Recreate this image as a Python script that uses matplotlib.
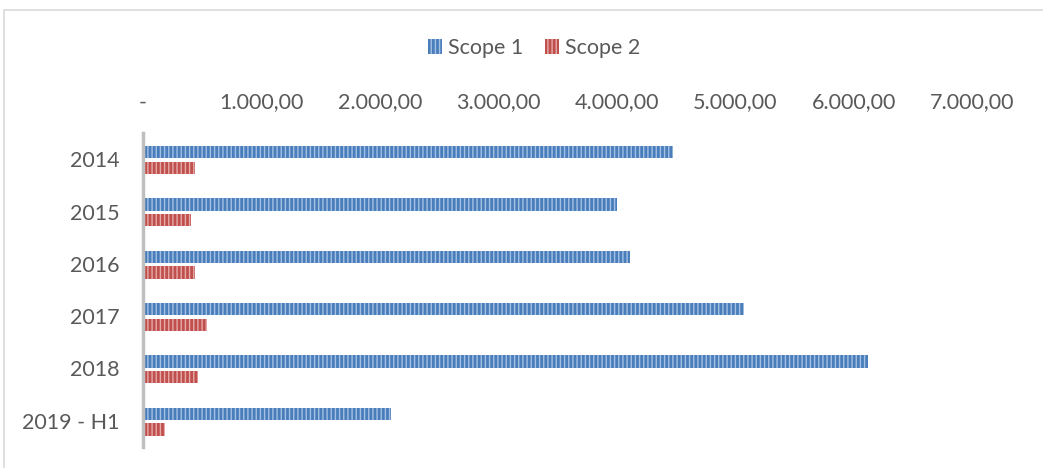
import numpy as np
import matplotlib.pyplot as plt
from matplotlib.patches import Rectangle
from matplotlib.ticker import FuncFormatter

# %% Data
years = ['2014', '2015', '2016', '2017', '2018', '2019 - H1']
scope1 = [4470, 4000, 4110, 5070, 6120, 2090]  # Scope 1 emissions
scope2 = [440, 405, 440, 540, 465, 185]  # Scope 2 emissions

# %% Style
plt.rcParams['font.family'] = ['Lato', 'DejaVu Sans']
plt.rcParams['hatch.linewidth'] = 1.0
text_col = '#595959'
blue = '#4a7ebb'
red = '#c0504d'


def fmt(v, pos):
    if v == 0:
        return '-'
    s = f'{v:,.2f}'
    return s.replace(',', 'X').replace('.', ',').replace('X', '.')


# %% plotting
fig = plt.figure(figsize=(10.43, 4.68), dpi=100)
ax = fig.add_axes([0.1371, 0.0449, 0.7951, 0.6709])

# outer chart border
fig.patches.append(Rectangle((4 / 1043, -0.1), 1.2, 1 - 10 / 468 + 0.1,
                             transform=fig.transFigure, fill=False,
                             edgecolor='#d9d9d9', linewidth=1.2))

y = np.arange(len(years))
h = 0.235
ax.barh(y - 0.135, scope1, height=h, color=blue, edgecolor='#a4c0e4',
        hatch='||||', linewidth=0, label='Scope 1')
ax.barh(y + 0.165, scope2, height=h, color=red, edgecolor='#e6aaa8',
        hatch='||||', linewidth=0, label='Scope 2')

ax.set_xlim(0, 7000)
ax.set_ylim(len(years) - 0.5, -0.5)
ax.set_xticks(np.arange(0, 7001, 1000))
ax.xaxis.set_major_formatter(FuncFormatter(fmt))
ax.xaxis.tick_top()
ax.set_yticks(y)
ax.set_yticklabels(years)
ax.tick_params(axis='x', length=0, pad=15, labelsize=15.5, colors=text_col)
ax.tick_params(axis='y', length=0, pad=17, labelsize=15.5, colors=text_col)
for s in ['top', 'right', 'bottom']:
    ax.spines[s].set_visible(False)
ax.spines['left'].set_color('#bfbfbf')
ax.spines['left'].set_linewidth(2.5)

fig.legend(loc='center', bbox_to_anchor=(534 / 1043, 1 - 48 / 468), ncol=2,
           frameon=False, fontsize=15.5, labelcolor=text_col, handlelength=0.65,
           handleheight=0.7, handletextpad=0.3, columnspacing=1.0)

plt.savefig('out.png', dpi=100)
